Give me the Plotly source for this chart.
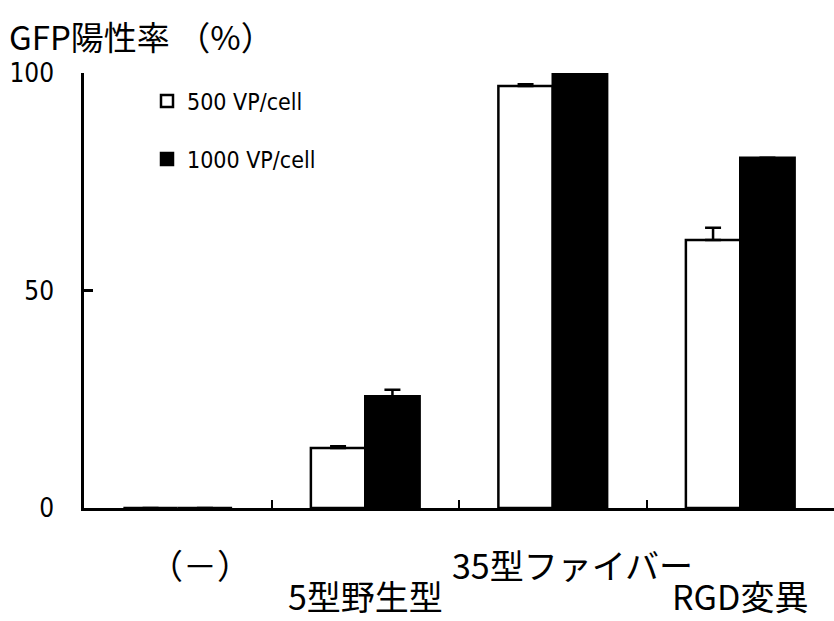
import plotly.graph_objects as go

# GFP-positive rate by vector type at two doses
categories = ["(−)", "5型野生型", "35型ファイバー", "RGD変異"]
low_dose = [0.0, 13.8, 97.0, 61.6]
low_err = [None, 0.4, 0.4, 2.8]
high_dose = [0.0, 25.7, 99.8, 80.5]
high_err = [None, 1.5, 0.5, None]
series_names = ["500 VP/cell", "1000 VP/cell"]
y_ticks = [0, 50, 100]

JP = "Noto Sans CJK JP, sans-serif"
NARROW = "DejaVu Sans Condensed, Liberation Sans Narrow, Arial Narrow, sans-serif"

fig = go.Figure()
fig.add_trace(go.Bar(
    x=categories, y=low_dose, name=series_names[0], legendgroup="a",
    marker=dict(color="white", line=dict(color="black", width=2.5)),
    error_y=dict(type="data", array=low_err, visible=True, symmetric=False,
                 arrayminus=[0] * 4, color="black", thickness=2.5, width=8),
))
fig.add_trace(go.Bar(
    x=categories, y=high_dose, name=series_names[1], legendgroup="b",
    marker=dict(color="black", line=dict(color="black", width=2.5)),
    error_y=dict(type="data", array=high_err, visible=True, symmetric=False,
                 arrayminus=[0] * 4, color="black", thickness=2.5, width=8),
))

# staggered category labels below the axis
label_rows = [-0.13, -0.2, -0.13, -0.2]
label_shift = [22, 0, 20, 0]
label_text = ["（－）", "5型野生型", "35型ファイバー", "RGD変異"]
for cat, txt, yy, dx in zip(categories, label_text, label_rows, label_shift):
    fig.add_annotation(x=cat, xref="x", y=yy, yref="paper", text=txt,
                       showarrow=False, xshift=dx, xanchor="center", yanchor="middle",
                       font=dict(family=JP, size=34, color="black"))

# axis title at the top-left
fig.add_annotation(x=-0.103, xref="paper", y=1.085, yref="paper",
                   text="GFP陽性率 （%）", showarrow=False, xanchor="left",
                   yanchor="middle", font=dict(family=JP, size=33, color="black"))

fig.update_layout(
    width=834, height=621,
    margin=dict(l=84, r=0, t=73, b=113),
    paper_bgcolor="white", plot_bgcolor="white",
    barmode="group", bargap=0.42, bargroupgap=0,
    showlegend=True,
    legend=dict(x=0.084, y=0.985, xanchor="left", yanchor="top",
                bgcolor="rgba(0,0,0,0)", tracegroupgap=25, itemwidth=30,
                font=dict(family=NARROW, size=23, color="black")),
    xaxis=dict(type="category", range=[-0.5, 3.5], showticklabels=False,
               ticks="inside", tickson="boundaries", ticklen=8, tickwidth=2,
               tickcolor="black", showline=True, linecolor="black", linewidth=2.5,
               showgrid=False, zeroline=False),
    yaxis=dict(range=[0, 100], tickvals=y_ticks, ticks="inside", ticklen=9,
               tickwidth=2.5, tickcolor="black", showline=True, linecolor="black",
               linewidth=2.5, showgrid=False, zeroline=False,
               ticklabelstandoff=22,
               tickfont=dict(family=NARROW, size=26, color="black")),
    font=dict(family=JP, color="black"),
)

fig.write_html("out.html")
